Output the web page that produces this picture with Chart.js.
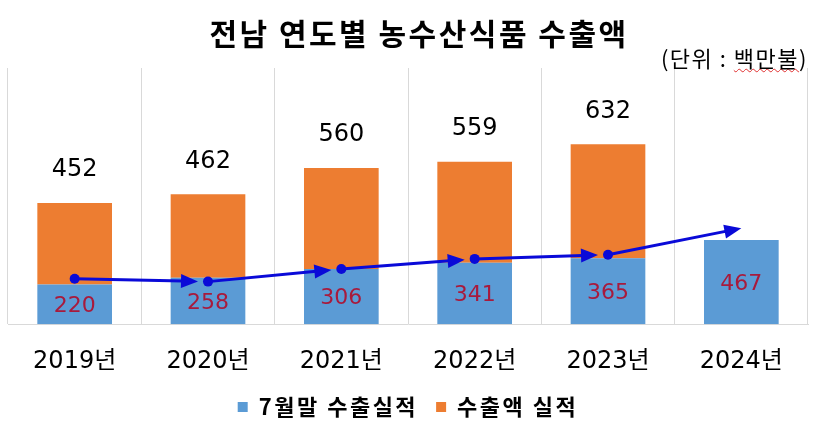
<!DOCTYPE html>
<html>
<head>
<meta charset="utf-8">
<script src="https://cdn.jsdelivr.net/npm/chart.js@4.4.1/dist/chart.umd.min.js"></script>
<style>
  html, body { margin: 0; padding: 0; background: #fff; }
  #wrap { position: relative; width: 820px; height: 432px; }
  #title {
    position: absolute; left: 0; top: 10px; width: 838px; text-align: center;
    font: bold 30px "Noto Sans CJK KR", sans-serif; letter-spacing: 2.5px; color: #000;
  }
  #unit {
    position: absolute; right: 12px; top: 41px;
    font: 22px "Noto Sans CJK KR", sans-serif; color: #000; letter-spacing: 1.5px;
  }
  #unit span { text-decoration: underline wavy #e03030; text-decoration-thickness: 1px; }
</style>
</head>
<body>
<div id="wrap">
  <canvas id="exportChart" width="820" height="432"></canvas>
  <div id="title">전남 연도별 농수산식품 수출액</div>
  <div id="unit">(단위 : <span>백만불</span>)</div>
</div>
<script>
const years = ['2019년', '2020년', '2021년', '2022년', '2023년', '2024년'];
const julyExports = [220, 258, 306, 341, 365, 467];
const annualExports = [452, 462, 560, 559, 632, null];
const trendPoints = [252, 236, 306, 362, 385, 532];

// wider letter spacing for the legend text (reset after the datasets are drawn)
const spacingPlugin = {
    id: 'spacing',
    beforeUpdate(chart) { chart.ctx.letterSpacing = '2.5px'; },
    beforeDraw(chart) { chart.ctx.letterSpacing = '2.5px'; },
    afterDatasetsDraw(chart) { chart.ctx.letterSpacing = '0px'; }
};

// arrows between the trend points
const arrowPlugin = {
    id: 'arrows',
    afterDatasetsDraw(chart) {
        const pts = chart.getDatasetMeta(2).data;
        const ctx = chart.ctx;
        ctx.save();
        ctx.strokeStyle = '#0a0ad8';
        ctx.fillStyle = '#0a0ad8';
        ctx.lineWidth = 3;
        for (let i = 0; i < pts.length - 1; i++) {
            const a = pts[i], b = pts[i + 1];
            const dx = b.x - a.x, dy = b.y - a.y;
            const len = Math.sqrt(dx * dx + dy * dy);
            const ux = dx / len, uy = dy / len;
            const gap = (i === pts.length - 2) ? 0 : 10;
            const tipX = b.x - ux * gap, tipY = b.y - uy * gap;
            const head = 17, half = 7;
            const baseX = tipX - ux * head, baseY = tipY - uy * head;
            ctx.beginPath();
            ctx.moveTo(a.x, a.y);
            ctx.lineTo(baseX + ux * 2, baseY + uy * 2);
            ctx.stroke();
            ctx.beginPath();
            ctx.moveTo(tipX, tipY);
            ctx.lineTo(baseX - uy * half, baseY + ux * half);
            ctx.lineTo(baseX + uy * half, baseY - ux * half);
            ctx.closePath();
            ctx.fill();
        }
        ctx.restore();
    }
};

// value labels on the bars
const labelPlugin = {
    id: 'barLabels',
    afterDatasetsDraw(chart) {
        const ctx = chart.ctx;
        ctx.save();
        ctx.letterSpacing = '0px';
        ctx.textAlign = 'center';
        ctx.textBaseline = 'middle';
        chart.getDatasetMeta(0).data.forEach((bar, i) => {
            ctx.font = '22px "DejaVu Sans", sans-serif';
            ctx.fillStyle = '#a81a3c';
            ctx.fillText(julyExports[i], bar.x, (bar.y + bar.base) / 2 + 2);
        });
        chart.getDatasetMeta(1).data.forEach((bar, i) => {
            if (annualExports[i] === null) return;
            ctx.font = '24px "DejaVu Sans", sans-serif';
            ctx.fillStyle = '#000';
            ctx.fillText(annualExports[i], bar.x, bar.y - 33);
        });
        ctx.restore();
    }
};

const ctx = document.getElementById('exportChart').getContext('2d');
new Chart(ctx, {
    type: 'bar',
    data: {
        labels: years,
        datasets: [
            {
                label: '7월말 수출실적',
                data: julyExports,
                backgroundColor: '#5b9bd5',
                borderWidth: 0,
                barPercentage: 0.56,
                categoryPercentage: 1,
                order: 2
            },
            {
                label: '수출액 실적',
                data: annualExports,
                backgroundColor: '#ed7d31',
                borderWidth: 0,
                barPercentage: 0.56,
                categoryPercentage: 1,
                order: 2
            },
            {
                type: 'line',
                label: 'trend',
                data: trendPoints,
                yAxisID: 'y2',
                showLine: false,
                pointRadius: [5, 5, 5, 5, 5, 0],
                pointBackgroundColor: '#0a0ad8',
                pointBorderWidth: 0,
                order: 1
            }
        ]
    },
    options: {
        responsive: false,
        animation: false,
        layout: { padding: { top: 68, left: 8, right: 12, bottom: 4 } },
        plugins: {
            title: { display: false },
            tooltip: { enabled: false },
            legend: {
                position: 'bottom',
                labels: {
                    filter: item => item.datasetIndex !== 2,
                    boxWidth: 10,
                    boxHeight: 10,
                    padding: 18,
                    color: '#000',
                    font: { family: '"Noto Sans CJK KR", sans-serif', size: 22, weight: 'bold' }
                }
            }
        },
        scales: {
            x: {
                stacked: true,
                grid: { color: '#d9d9d9', drawTicks: false, offset: true },
                border: { color: '#d9d9d9' },
                ticks: {
                    z: 1,
                    color: '#000',
                    padding: 23,
                    font: { family: '"DejaVu Sans", "Noto Sans CJK KR", sans-serif', size: 24 }
                },
                afterFit: scale => { scale.height -= 21; }
            },
            y: {
                stacked: true,
                display: false,
                min: 0,
                max: 1420
            },
            y2: {
                display: false,
                min: 0,
                max: 1420
            }
        }
    },
    plugins: [spacingPlugin, arrowPlugin, labelPlugin]
});
</script>
</body>
</html>
